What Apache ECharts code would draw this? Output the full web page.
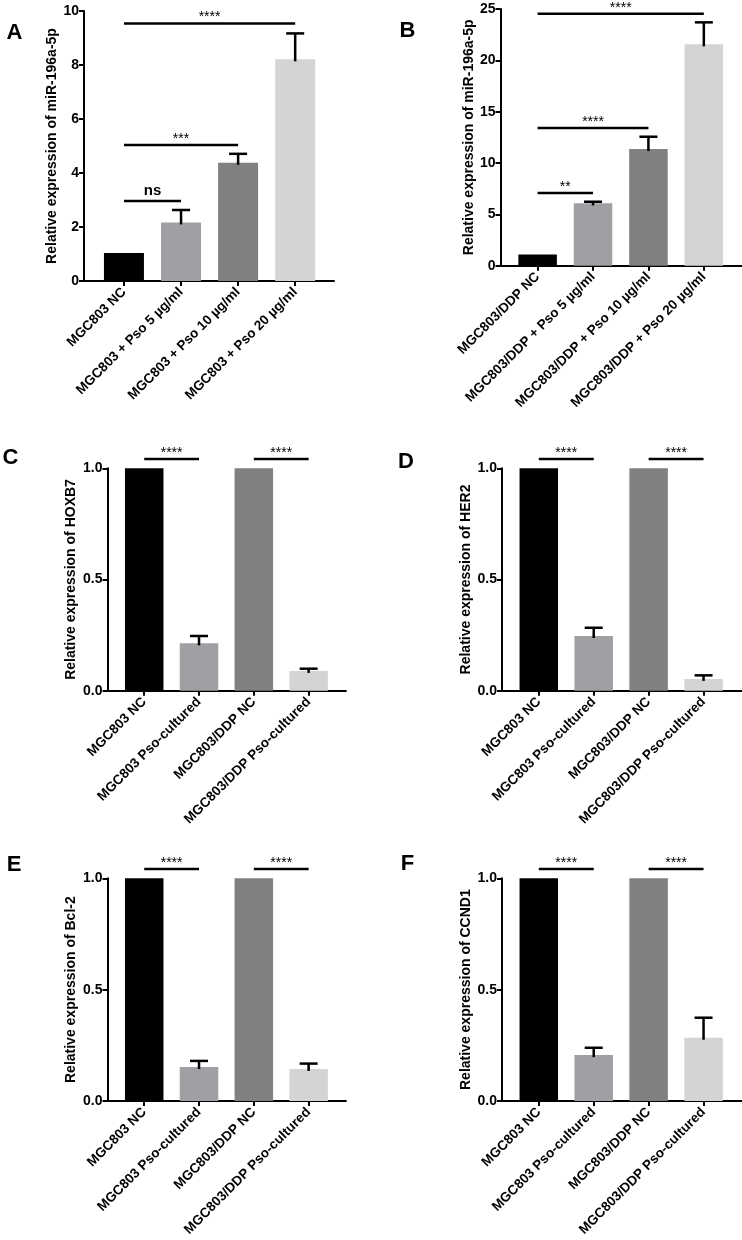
<!DOCTYPE html>
<html>
<head>
<meta charset="utf-8">
<script src="https://cdn.jsdelivr.net/npm/echarts@6/dist/echarts.min.js"></script>
<style>
html,body{margin:0;padding:0;background:#fff;}
#c{width:742px;height:1240px;}
</style>
</head>
<body>
<div id="c"></div>
<script>
// ---- data ----
const catA = ['MGC803 NC', 'MGC803 + Pso 5 µg/ml', 'MGC803 + Pso 10 µg/ml', 'MGC803 + Pso 20 µg/ml'];
const meanA = [1.04, 2.17, 4.38, 8.21];
const errA = [0, 0.46, 0.33, 0.96];
const sigA = [[0, 1, 2.96, 'ns'], [0, 2, 5.04, '***'], [0, 3, 9.54, '****']];

const catB = ['MGC803/DDP NC', 'MGC803/DDP + Pso 5 µg/ml', 'MGC803/DDP + Pso 10 µg/ml', 'MGC803/DDP + Pso 20 µg/ml'];
const meanB = [1.1, 6.07, 11.36, 21.56];
const errB = [0, 0.16, 1.2, 2.14];
const sigB = [[0, 1, 7.08, '**'], [0, 2, 13.41, '****'], [0, 3, 24.54, '****']];

const catCF = ['MGC803 NC', 'MGC803 Pso-cultured', 'MGC803/DDP NC', 'MGC803/DDP Pso-cultured'];
const meanC = [1, 0.213, 1, 0.089];
const errC = [0, 0.033, 0, 0.010];
const meanD = [1, 0.246, 1, 0.053];
const errD = [0, 0.037, 0, 0.016];
const meanE = [1, 0.153, 1, 0.144];
const errE = [0, 0.027, 0, 0.024];
const meanF = [1, 0.206, 1, 0.284];
const errF = [0, 0.033, 0, 0.090];
const sigCF = [[0, 1, 1.042, '****'], [2, 3, 1.042, '****']];

const titleA = 'Relative expression of miR-196a-5p';
const titleB = 'Relative expression of miR-196a-5p';
const titleC = 'Relative expression of HOXB7';
const titleD = 'Relative expression of HER2';
const titleE = 'Relative expression of Bcl-2';
const titleF = 'Relative expression of CCND1';
const panelLetters = ['A', 'B', 'C', 'D', 'E', 'F'];

// ---- styling ----
const FONT = "'Liberation Sans', Arial, sans-serif";
const barColors = ['#000000', '#a0a0a4', '#808080', '#d4d4d4'];

const panels = [
  {cats: catA, means: meanA, errs: errA, sigs: sigA, ymax: 10, yint: 2, dec: 0, title: titleA,
   left: 84, top: 11, width: 250, height: 270, xmin: -0.7, xmax: 3.68, barW: 40, nameGap: 24, letter: [14.5, 33]},
  {cats: catB, means: meanB, errs: errB, sigs: sigB, ymax: 25, yint: 5, dec: 0, title: titleB,
   left: 500.5, top: 9, width: 241, height: 256.7, xmin: -0.67, xmax: 3.68, barW: 38.5, nameGap: 24, letter: [407.5, 31]},
  {cats: catCF, means: meanC, errs: errC, sigs: sigCF, ymax: 1, yint: 0.5, dec: 1, title: titleC,
   left: 107.5, top: 468.3, width: 238.4, height: 222.4, xmin: -0.67, xmax: 3.68, barW: 38.5, nameGap: 29, letter: [10.5, 458]},
  {cats: catCF, means: meanD, errs: errD, sigs: sigCF, ymax: 1, yint: 0.5, dec: 1, title: titleD,
   left: 502, top: 468.3, width: 240, height: 222.4, xmin: -0.67, xmax: 3.7, barW: 38.5, nameGap: 29, letter: [406, 461.5]},
  {cats: catCF, means: meanE, errs: errE, sigs: sigCF, ymax: 1, yint: 0.5, dec: 1, title: titleE,
   left: 107.5, top: 878.3, width: 238.4, height: 222.7, xmin: -0.67, xmax: 3.68, barW: 38.5, nameGap: 29, letter: [14, 864.7]},
  {cats: catCF, means: meanF, errs: errF, sigs: sigCF, ymax: 1, yint: 0.5, dec: 1, title: titleF,
   left: 502, top: 878.3, width: 240, height: 222.7, xmin: -0.67, xmax: 3.7, barW: 38.5, nameGap: 29, letter: [407.5, 863.5]}
];

const grid = [], xAxis = [], yAxis = [], series = [], graphic = [];
panels.forEach((p, i) => {
  const idx = p.cats.map((c, k) => k);
  grid.push({left: p.left, top: p.top, width: p.width, height: p.height, containLabel: false});
  xAxis.push({
    gridIndex: i, type: 'value', min: p.xmin, max: p.xmax,
    splitLine: {show: false},
    axisLine: {show: true, onZero: false, lineStyle: {color: '#000', width: 2}},
    axisTick: {show: true, customValues: idx, length: 5, lineStyle: {color: '#000', width: 2}},
    axisLabel: {show: true, customValues: idx, rotate: 45, margin: 9,
      formatter: v => p.cats[Math.round(v)],
      fontFamily: FONT, fontWeight: 'bold', fontSize: 13.5, color: '#000'}
  });
  yAxis.push({
    gridIndex: i, type: 'value', min: 0, max: p.ymax, interval: p.yint,
    splitLine: {show: false},
    axisLine: {show: true, onZero: false, lineStyle: {color: '#000', width: 2}},
    axisTick: {show: true, length: 5, lineStyle: {color: '#000', width: 2}},
    axisLabel: {margin: 5, formatter: v => v.toFixed(p.dec),
      fontFamily: FONT, fontWeight: 'bold', fontSize: 14, color: '#000'},
    name: p.title, nameLocation: 'middle', nameGap: p.nameGap,
    nameTextStyle: {fontFamily: FONT, fontWeight: 'bold', fontSize: 14, color: '#000'}
  });
  series.push({
    type: 'bar', xAxisIndex: i, yAxisIndex: i, barWidth: p.barW,
    data: p.means.map((m, k) => ({value: [k, m], itemStyle: {color: barColors[k]}})),
    animation: false
  });
  series.push({
    type: 'custom', xAxisIndex: i, yAxisIndex: i, clip: false, animation: false, z: 3,
    data: p.means.map((m, k) => [k, m, m + p.errs[k]]),
    renderItem: (params, api) => {
      const lo = api.coord([api.value(0), api.value(1)]);
      const hi = api.coord([api.value(0), api.value(2)]);
      if (Math.abs(hi[1] - lo[1]) < 0.5) return {type: 'group', children: []};
      const st = {stroke: '#000', lineWidth: 2.5};
      return {type: 'group', children: [
        {type: 'line', shape: {x1: lo[0], y1: lo[1] + 2, x2: hi[0], y2: hi[1]}, style: st},
        {type: 'line', shape: {x1: hi[0] - 9, y1: hi[1], x2: hi[0] + 9, y2: hi[1]}, style: st}
      ]};
    }
  });
  series.push({
    type: 'custom', xAxisIndex: i, yAxisIndex: i, clip: false, animation: false, z: 3,
    data: p.sigs.map((s, k) => [s[0], s[2], s[1], k]),
    renderItem: (params, api) => {
      const a = api.coord([api.value(0), api.value(1)]);
      const b = api.coord([api.value(2), api.value(1)]);
      const lab = p.sigs[api.value(3)][3];
      const isNs = lab === 'ns';
      return {type: 'group', children: [
        {type: 'line', shape: {x1: a[0], y1: a[1], x2: b[0], y2: b[1]}, style: {stroke: '#000', lineWidth: 2.5}},
        {type: 'text', x: (a[0] + b[0]) / 2, y: isNs ? a[1] - 3 : a[1] - 6,
         style: {text: lab, align: 'center', verticalAlign: isNs ? 'bottom' : 'middle',
           font: (isNs ? 'bold 15px ' : '14px ') + FONT, fill: '#000'}}
      ]};
    }
  });
  graphic.push({type: 'text', x: p.letter[0], y: p.letter[1],
    style: {text: panelLetters[i], align: 'center', verticalAlign: 'middle', font: 'bold 22px ' + FONT, fill: '#000'}});
});

const chart = echarts.init(document.getElementById('c'), null, {renderer: 'canvas'});
chart.setOption({animation: false, backgroundColor: '#fff', grid, xAxis, yAxis, series, graphic});
</script>
</body>
</html>
